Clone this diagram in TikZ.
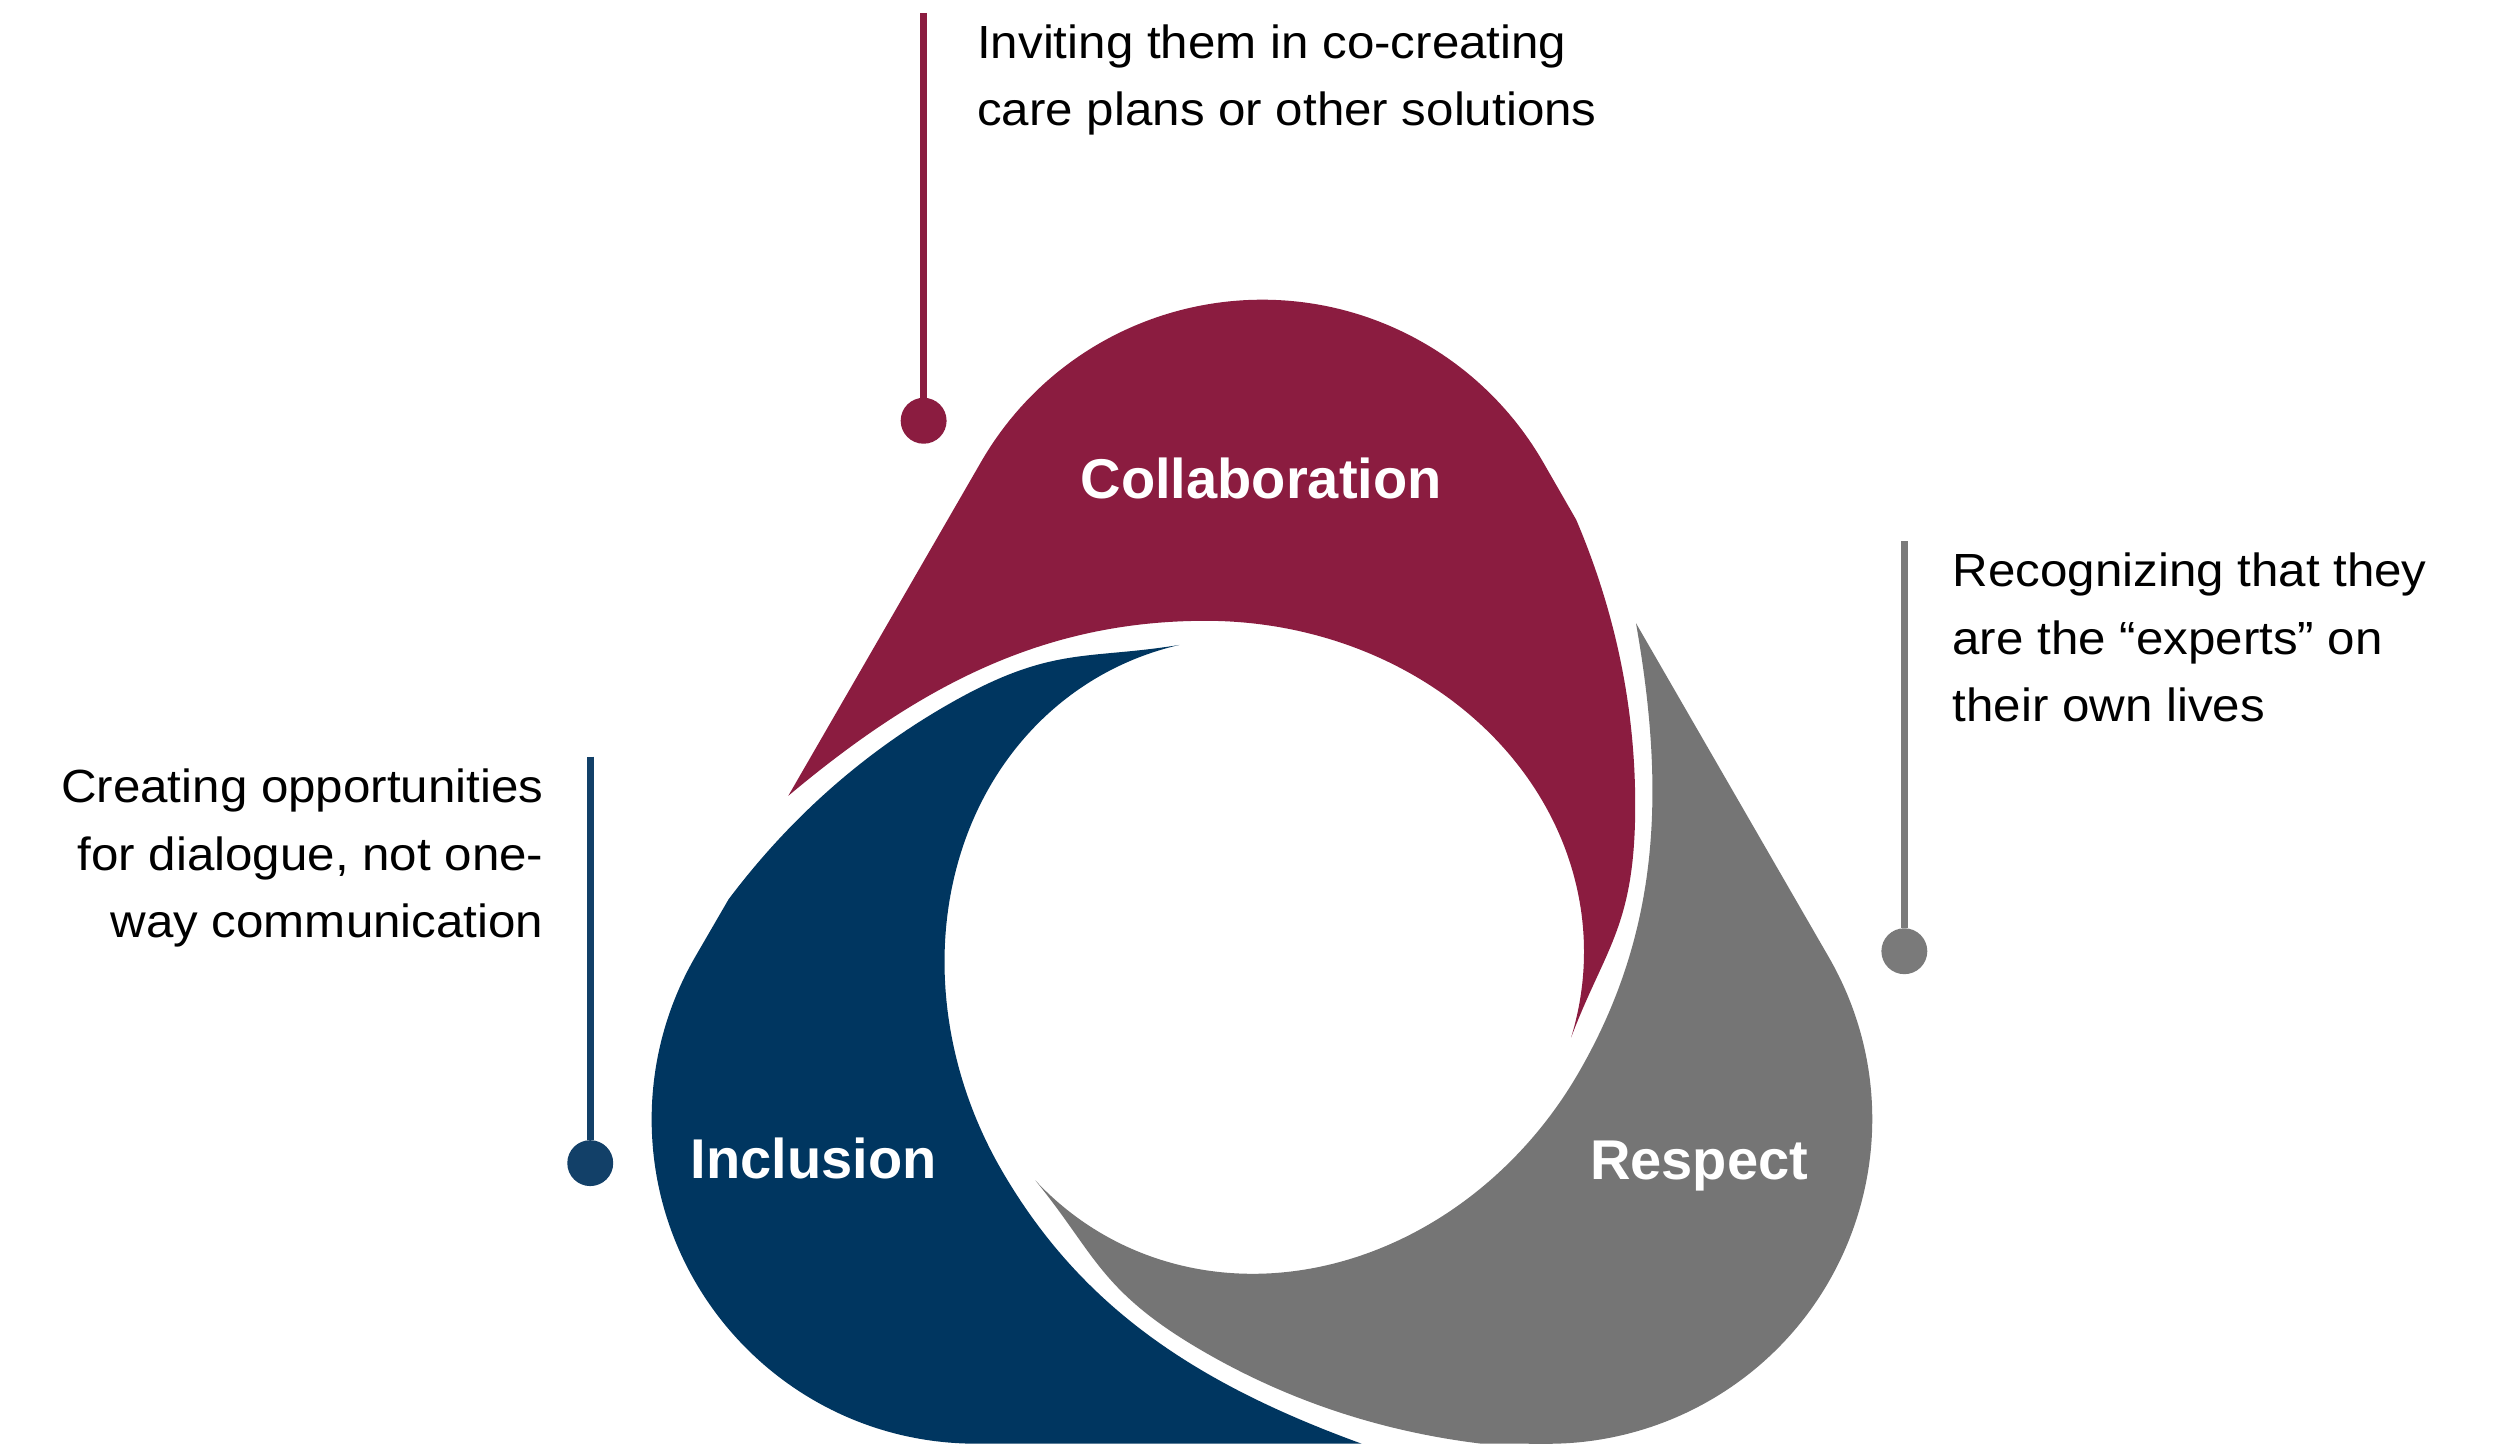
\documentclass[tikz,border=0pt]{standalone}
\usepackage{fontspec}
\setmainfont{Liberation Sans}[FakeStretch=1.06]
\newfontfamily\labelfont{Liberation Sans}
\definecolor{cRed}{RGB}{139,28,64}
\definecolor{cBlue}{RGB}{0,54,96}
\definecolor{cGray}{RGB}{117,117,117}
\definecolor{cBlueLine}{RGB}{18,64,104}
\definecolor{cGrayLine}{RGB}{122,122,122}
\begin{document}
\begin{tikzpicture}[x=0.5mm, y=-0.5mm,
  piecelabel/.style={text=white, font=\labelfont\bfseries\fontsize{50}{60}\selectfont, inner sep=0pt, anchor=base},
  callouttext/.style={text=black, font=\fontsize{41.5}{60.2}\selectfont, inner sep=0pt},
  stem/.style={line width=2.2mm},
  dot/.style={circle, inner sep=0pt, minimum size=14.4mm}]
\useasboundingbox (0,0) rectangle (1568,907);
\fill[white] (0,0) rectangle (1568,907);

% three congruent pieces, rotated about the centre of the rounded triangle
\foreach \ang/\col in {0/cRed, 120/cBlue, 240/cGray}{
  \fill[\col, rotate around={\ang:(791.5,598.5)}]
    (494.4,499.15) -- (615.3,289.75)
    arc[start angle=210, end angle=330, radius=203.5]
    -- (988.6,326)
    .. controls (1016,390.4) and (1025.6,451) .. (1025.6,505)
    .. controls (1025.6,581) and (1006.6,594.6) .. (985.4,650.7)
    arc[start angle=375, end angle=270, x radius=237.2, y radius=207.6]
    .. controls (656.3,389.4) and (578.7,428.4) .. (494.4,499.15)
    -- cycle;
}

% piece labels
\node[piecelabel] (lcollab) at (791,312.9) {Collaboration};
\node[piecelabel] (lincl) at (510.2,739.1) {Inclusion};
\node[piecelabel] (lresp) at (1065.7,739.5) {Respect};

% callouts
\node[dot, fill=cRed] (dcollab) at (579.3,263.9) {};
\coordinate (scollab) at (579.3,8);
\draw[stem, cRed] (scollab) -- (dcollab);
\node[callouttext, anchor=base west, align=left] (tcollab) at (612.8,79.0)
  {Inviting them in co-creating\\care plans or other solutions};

\node[dot, fill=cGrayLine] (dresp) at (1194.4,596.6) {};
\coordinate (sresp) at (1194.4,339.4);
\draw[stem, cGrayLine] (sresp) -- (dresp);
\node[callouttext, anchor=base west, align=left] (tresp) at (1224.5,452.6)
  {Recognizing that they\\are the “experts” on\\their own lives};

\node[dot, fill=cBlueLine] (dincl) at (370.2,729.5) {};
\coordinate (sincl) at (370.2,474.5);
\draw[stem, cBlueLine] (sincl) -- (dincl);
\node[callouttext, anchor=base east, align=right] (tincl) at (341,588)
  {Creating opportunities\\for dialogue, not one-\\way communication};
\end{tikzpicture}
\end{document}
